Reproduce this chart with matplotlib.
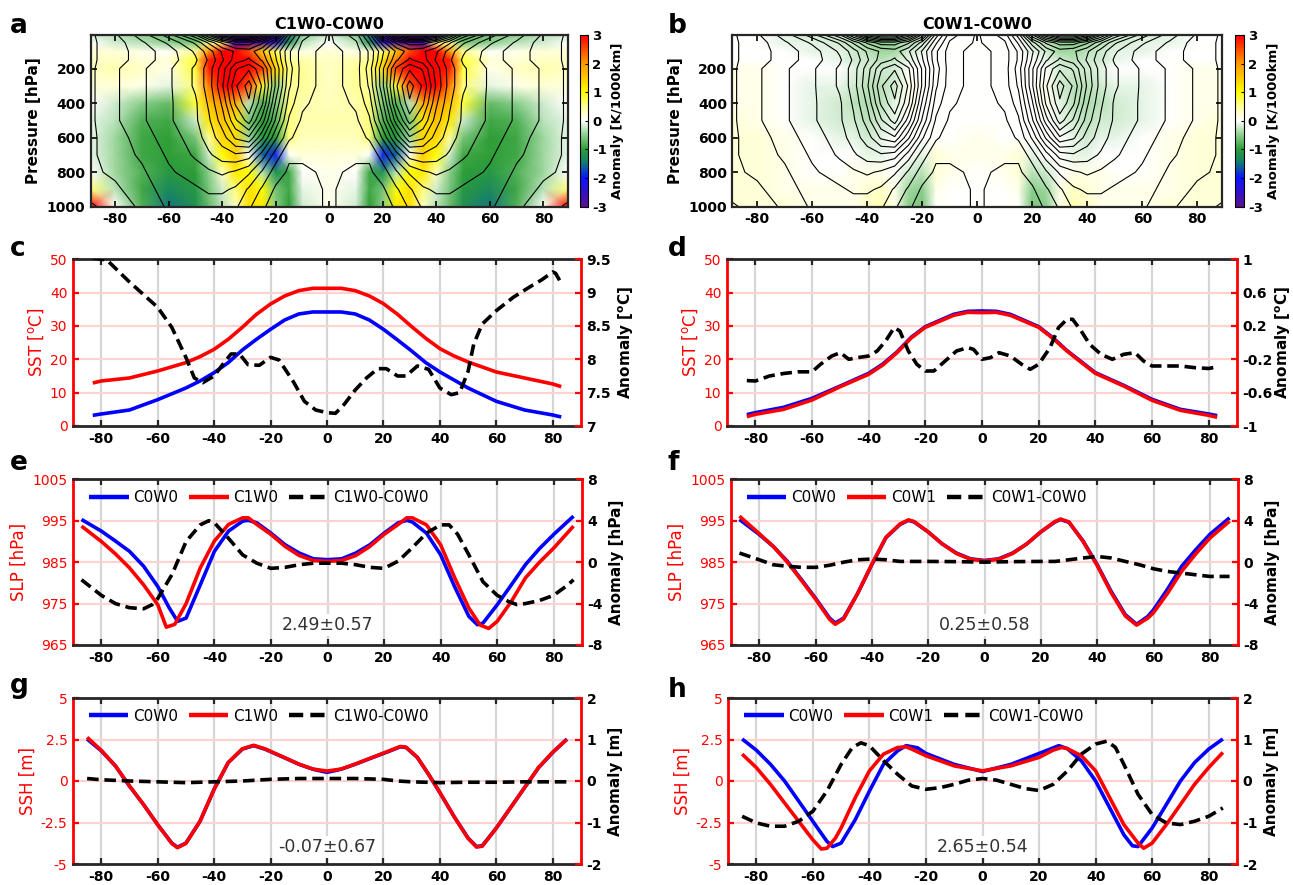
import numpy as np
import matplotlib
matplotlib.use("Agg")
import matplotlib.pyplot as plt
from matplotlib.colors import LinearSegmentedColormap

plt.rcParams['font.family'] = ['DejaVu Sans']
plt.rcParams['axes.unicode_minus'] = False
plt.rcParams['mathtext.default'] = 'regular'

# ---------------- data: maps (southern half read; the reference fields are mirror-symmetric) ----------------
LAT_S = [-89, -80, -70, -60, -50, -45, -40, -35, -30, -25, -20, -15, -10, 0]
LEV = [5, 50, 100, 150, 200, 300, 400, 500, 600, 700, 800, 900, 1000]

# background climatology drawn as black contours
U_BASE_S = [
    [0, 3, 8, 14, 24, 34, 44, 50, 50, 42, 30, 14, 5, 0],
    [0, 2, 6, 10, 16, 22, 28, 32, 32, 28, 20, 10, 3, 0],
    [0, 2, 5, 8, 13, 17, 22, 25, 26, 22, 15, 7, 2, -1],
    [0, 2, 5, 8, 12, 16, 21, 26, 28, 24, 16, 7, 2, -1],
    [0, 3, 6, 9, 13, 17, 23, 30, 33, 28, 18, 8, 2, -1],
    [0, 3, 6, 9, 13, 17, 24, 33, 38, 30, 18, 7, 2, -1],
    [0, 3, 6, 9, 12, 16, 22, 31, 36, 28, 15, 5, 1, -1],
    [0, 3, 6, 9, 12, 15, 20, 27, 32, 23, 12, 3, 0, -2],
    [0, 2, 5, 8, 11, 14, 17, 22, 24, 16, 7, 1, -1, -2],
    [0, 2, 4, 7, 10, 12, 14, 15, 14, 8, 2, -2, -2, -2],
    [0, 1, 3, 6, 8, 9, 10, 9, 7, 3, -1, -3, -3, -2],
    [-1, 0, 2, 5, 6, 7, 7, 6, 3, 0, -3, -4, -4, -2],
    [-3, -1, 1, 4, 5, 5, 5, 4, 1, -2, -4, -5, -4, -2],
]

# anomaly C1W0-C0W0 [K/1000km]
ANOM_A_S = [
    [-0.2, -0.3, -0.5, -0.6, -0.9, -1.2, -2.6, -3.0, -3.0, -3.0, -2.6, -1.5, -0.5, -0.2],
    [0.0, -0.2, -0.3, -0.5, -0.6, 0.5, 0.6, -2.5, -2.8, -2.8, -2.4, -1.2, -0.3, 0.0],
    [0.2, 0.2, 0.1, 0.0, 0.5, 2.0, 3.0, 3.0, 2.5, 1.5, 0.6, 0.2, 0.1, 0.2],
    [0.3, 0.3, 0.2, 0.2, 0.8, 2.8, 3.0, 3.0, 3.0, 2.2, 1.2, 0.5, 0.4, 0.3],
    [0.3, 0.4, 0.3, 0.1, 0.8, 2.8, 3.0, 3.0, 3.0, 2.6, 1.4, 0.6, 0.5, 0.3],
    [0.2, 0.2, 0.1, -0.1, 0.6, 2.2, 3.0, 3.0, 2.4, 0.8, -0.5, 0.5, 0.5, 0.3],
    [0.0, -0.2, -0.5, -0.7, 0.8, 1.6, 2.0, 1.8, -0.3, -0.8, -0.6, 0.6, 0.4, 0.35],
    [-0.1, -0.3, -0.8, -0.9, -0.2, 1.2, 1.6, 1.2, -0.6, -1.0, -0.8, 0.6, 0.4, 0.4],
    [-0.1, -0.4, -0.9, -1.0, -0.6, 0.5, 1.4, 1.4, -0.4, -1.1, -1.0, 0.6, 0.35, 0.35],
    [-0.1, -0.4, -0.9, -1.0, -0.9, -0.2, 1.0, 1.5, 0.0, -1.6, -1.9, 0.0, 0.2, 0.2],
    [0.0, -0.4, -0.8, -1.1, -1.0, -0.5, 0.3, 1.2, 1.0, -0.3, -1.2, -0.9, 0.0, 0.1],
    [0.6, -0.3, -0.9, -1.3, -1.1, -0.6, -0.2, 0.6, 1.3, 1.0, -0.6, -0.9, -0.1, 0.1],
    [3.0, 0.0, -0.8, -1.5, -1.2, -0.7, -0.3, 0.3, 1.3, 1.2, -0.5, -1.0, -0.2, 0.1],
]

# anomaly C0W1-C0W0 [K/1000km]
ANOM_B_S = [
    [0.0, 0.0, -0.1, -0.2, -0.2, -0.3, -0.4, -0.3, -0.2, -0.3, -0.2, 0.0, 0.0, 0.0],
    [0.0, 0.0, -0.1, -0.1, -0.2, -0.3, -0.4, -0.5, -0.4, -0.3, -0.2, 0.0, 0.0, 0.0],
    [0.0, 0.0, 0.0, -0.1, -0.1, -0.2, -0.3, -0.4, -0.4, -0.2, -0.1, 0.0, 0.0, 0.0],
    [0.0, 0.0, 0.0, 0.0, -0.1, -0.2, -0.2, -0.3, -0.2, -0.1, 0.0, 0.0, 0.0, 0.0],
    [0.1, 0.1, 0.0, 0.0, 0.0, -0.1, -0.2, -0.2, -0.2, 0.0, 0.0, 0.0, 0.0, 0.0],
    [0.1, 0.1, 0.0, -0.1, -0.1, -0.2, -0.3, -0.3, -0.2, 0.1, 0.0, 0.0, 0.0, 0.0],
    [0.1, 0.1, 0.0, -0.1, -0.2, -0.3, -0.35, -0.3, -0.1, 0.1, 0.0, 0.0, 0.0, 0.0],
    [0.2, 0.1, 0.0, -0.1, -0.2, -0.2, -0.3, -0.2, -0.1, 0.0, 0.0, 0.0, 0.0, 0.0],
    [0.2, 0.2, 0.1, 0.0, -0.1, -0.1, -0.2, -0.1, 0.0, 0.0, 0.0, 0.0, 0.0, 0.1],
    [0.2, 0.2, 0.1, 0.0, 0.0, 0.0, -0.1, -0.1, 0.0, 0.0, -0.1, 0.2, 0.1, 0.1],
    [0.2, 0.2, 0.1, 0.0, 0.0, 0.1, 0.1, 0.1, 0.0, -0.2, -0.3, 0.2, 0.1, 0.0],
    [0.2, 0.2, 0.1, 0.1, 0.1, 0.1, 0.2, 0.3, 0.1, -0.4, -0.5, 0.1, 0.0, 0.0],
    [0.2, 0.2, 0.2, 0.1, 0.1, 0.1, 0.3, 0.4, 0.1, -0.5, -0.6, 0.0, 0.0, 0.0],
]

MAP_TITLES = ['C1W0-C0W0', 'C0W1-C0W0']
CB_TICKS = [-3, -2, -1, 0, 1, 2, 3]
P_TICKS = [200, 400, 600, 800, 1000]
LAT_TICKS = [-80, -60, -40, -20, 0, 20, 40, 60, 80]

# ---------------- data: line panels ----------------
c_lat = [-83, -80, -70, -60, -50, -45, -40, -35, -30, -25, -20, -15, -10, -5, 0, 5, 10, 15, 20, 25, 30, 35, 40, 45, 50, 60, 70, 80, 83]
c_red = [12.9, 13.5, 14.4, 16.5, 19.0, 20.8, 23.0, 26.0, 29.6, 33.5, 36.6, 39.0, 40.6, 41.3, 41.3, 41.3, 40.6, 39.0, 36.7, 33.5, 29.8, 26.3, 23.2, 21.0, 19.2, 16.2, 14.4, 12.6, 11.8]
c_blue = [3.2, 3.6, 4.8, 7.9, 11.4, 13.5, 16.0, 19.0, 22.8, 26.0, 29.0, 31.8, 33.6, 34.2, 34.2, 34.2, 33.6, 31.8, 29.0, 25.8, 22.5, 19.0, 16.2, 13.8, 11.4, 7.4, 4.8, 3.3, 2.7]
c_anom_lat = [-83, -78, -70, -60, -55, -50, -47, -44, -40, -37, -34, -31, -28, -24, -20, -17, -12, -8, -4, 0, 3, 6, 10, 14, 18, 21, 25, 28, 32, 36, 40, 44, 47, 50, 52, 55, 60, 66, 72, 76, 80, 81, 83]
c_anom = [9.52, 9.49, 9.16, 8.78, 8.48, 8.03, 7.72, 7.65, 7.75, 7.92, 8.08, 8.08, 7.92, 7.91, 8.03, 7.99, 7.67, 7.37, 7.24, 7.2, 7.19, 7.32, 7.54, 7.72, 7.86, 7.86, 7.75, 7.75, 7.9, 7.85, 7.57, 7.47, 7.5, 7.82, 8.23, 8.53, 8.73, 8.93, 9.09, 9.19, 9.31, 9.29, 9.14]

d_lat = [-83, -80, -70, -60, -50, -40, -35, -30, -25, -20, -10, -5, 0, 5, 10, 20, 25, 30, 35, 40, 50, 60, 70, 80, 83]
d_blue = [3.4, 4.0, 5.6, 8.3, 12.0, 15.8, 18.6, 22.2, 26.6, 29.8, 33.5, 34.4, 34.5, 34.4, 33.5, 29.8, 26.5, 22.6, 19.3, 16.0, 12.2, 8.0, 5.0, 3.6, 3.1]
d_red = [2.8, 3.5, 5.0, 7.8, 11.8, 15.5, 18.3, 22.0, 26.4, 29.6, 33.2, 34.1, 34.0, 34.1, 33.2, 29.6, 26.3, 22.5, 19.1, 15.8, 12.0, 7.7, 4.7, 3.2, 2.6]
d_anom_lat = [-83, -80, -75, -70, -65, -60, -57, -53, -50, -47, -44, -40, -37, -34, -31, -29, -26, -23, -20, -17, -13, -9, -5, -3, 0, 3, 6, 10, 14, 17, 20, 24, 27, 30, 32, 35, 38, 42, 46, 50, 54, 57, 60, 65, 70, 75, 80, 83]
d_anom = [-0.455, -0.46, -0.40, -0.37, -0.35, -0.35, -0.26, -0.16, -0.12, -0.2, -0.18, -0.16, -0.10, 0.02, 0.18, 0.14, -0.1, -0.26, -0.34, -0.34, -0.22, -0.10, -0.06, -0.08, -0.2, -0.18, -0.12, -0.16, -0.26, -0.32, -0.26, -0.06, 0.18, 0.28, 0.28, 0.14, -0.02, -0.14, -0.2, -0.14, -0.12, -0.22, -0.28, -0.28, -0.28, -0.3, -0.31, -0.29]

e_blue_lat = [-87, -80, -75, -70, -65, -60, -56, -53, -50, -45, -40, -35, -30, -28, -25, -20, -15, -10, -5, 0, 5, 10, 15, 20, 25, 28, 30, 35, 40, 45, 50, 53, 55, 60, 65, 70, 75, 80, 87]
e_blue = [995.3, 992.5, 990.1, 987.6, 984.0, 979.1, 974.0, 970.7, 971.5, 979.5, 987.6, 992.5, 994.9, 995.1, 994.5, 992.0, 989.2, 987.2, 985.8, 985.6, 985.8, 987.2, 989.2, 992.0, 994.5, 995.1, 994.7, 992.0, 986.8, 979.0, 971.9, 969.9, 970.3, 974.7, 979.5, 984.4, 988.3, 991.7, 996.1]
e_red_lat = [-87, -80, -75, -70, -65, -60, -57, -54, -50, -45, -40, -35, -30, -28, -25, -20, -15, -10, -5, 0, 5, 10, 15, 20, 25, 28, 30, 35, 40, 45, 50, 54, 57, 60, 65, 70, 75, 80, 87]
e_red = [993.7, 990.0, 987.0, 983.6, 979.5, 974.7, 969.3, 970.0, 975.0, 983.6, 990.1, 994.1, 995.7, 995.7, 994.1, 991.7, 988.8, 986.6, 985.4, 985.2, 985.4, 986.6, 988.8, 991.7, 994.1, 995.7, 995.7, 994.0, 989.2, 981.2, 973.9, 969.8, 969.0, 970.7, 975.5, 981.2, 985.0, 988.4, 993.7]
e_anom_lat = [-87, -80, -75, -70, -65, -62, -60, -55, -50, -45, -42, -40, -35, -30, -25, -20, -15, -10, -5, 0, 5, 10, 15, 20, 25, 30, 35, 40, 43, 46, 50, 55, 60, 64, 67, 70, 75, 80, 85, 87]
e_anom = [-1.7, -3.2, -4.0, -4.4, -4.5, -4.1, -3.5, -1.2, 2.0, 3.6, 4.0, 3.8, 2.3, 0.7, -0.1, -0.6, -0.5, -0.25, -0.1, -0.1, -0.1, -0.25, -0.5, -0.6, 0.1, 1.4, 2.8, 3.6, 3.6, 2.7, 0.7, -1.9, -3.2, -3.8, -4.1, -4.0, -3.7, -3.2, -2.2, -1.7]

f_lat = [-87, -80, -75, -70, -65, -60, -55, -53, -50, -45, -40, -35, -30, -27, -25, -20, -15, -10, -5, 0, 5, 10, 15, 20, 25, 27, 30, 35, 40, 45, 50, 54, 58, 60, 65, 70, 75, 80, 87]
f_blue = [995.3, 991.7, 988.8, 985.2, 980.8, 976.3, 971.5, 970.3, 971.5, 977.5, 984.4, 990.9, 994.1, 995.1, 994.7, 992.3, 989.4, 987.2, 985.8, 985.4, 985.8, 987.2, 989.4, 992.3, 994.7, 995.3, 994.6, 990.1, 984.4, 977.9, 972.3, 970.0, 971.9, 973.5, 978.5, 984.0, 988.0, 991.7, 995.7]
f_red = [996.1, 991.9, 988.8, 985.0, 980.6, 976.1, 971.2, 970.0, 971.3, 977.5, 984.5, 991.0, 994.2, 995.2, 994.8, 992.3, 989.4, 987.1, 985.7, 985.3, 985.7, 987.1, 989.4, 992.3, 994.8, 995.4, 994.7, 990.0, 984.2, 977.6, 972.0, 969.8, 971.5, 972.8, 977.5, 982.8, 987.0, 990.8, 994.9]
f_anom_lat = [-87, -80, -75, -70, -65, -60, -55, -50, -45, -40, -35, -30, -20, -10, 0, 10, 20, 25, 30, 35, 40, 45, 50, 55, 60, 65, 70, 75, 80, 87]
f_anom = [0.88, 0.23, -0.25, -0.4, -0.5, -0.5, -0.3, 0.0, 0.23, 0.3, 0.23, 0.07, 0.07, 0.05, 0.0, 0.05, 0.07, 0.07, 0.23, 0.4, 0.55, 0.4, 0.07, -0.25, -0.64, -0.9, -1.06, -1.22, -1.38, -1.38]

g_lat = [-85, -80, -75, -70, -65, -60, -55, -53, -50, -45, -40, -35, -30, -26, -22, -18, -14, -10, -5, 0, 5, 10, 15, 20, 26, 28, 32, 36, 40, 45, 50, 53, 55, 60, 65, 70, 75, 80, 85]
g_blue = [2.53, 1.82, 0.91, -0.3, -1.42, -2.63, -3.74, -3.99, -3.74, -2.43, -0.5, 1.11, 1.92, 2.13, 1.92, 1.62, 1.32, 1.01, 0.71, 0.52, 0.71, 1.01, 1.34, 1.66, 2.06, 2.02, 1.42, 0.4, -0.7, -2.13, -3.44, -3.95, -3.9, -2.83, -1.62, -0.4, 0.81, 1.72, 2.53]
g_red = [2.63, 1.85, 0.92, -0.3, -1.42, -2.63, -3.76, -4.02, -3.76, -2.43, -0.5, 1.11, 1.94, 2.15, 1.94, 1.63, 1.33, 1.02, 0.72, 0.6, 0.72, 1.02, 1.35, 1.68, 2.08, 2.04, 1.43, 0.4, -0.7, -2.14, -3.46, -3.98, -3.93, -2.84, -1.62, -0.4, 0.82, 1.74, 2.5]
g_anom_lat = [-85, -80, -70, -60, -50, -40, -30, -20, -10, 0, 10, 20, 25, 30, 40, 50, 60, 70, 80, 85]
g_anom = [0.06, 0.03, 0.0, -0.02, -0.04, -0.02, 0.0, 0.04, 0.06, 0.06, 0.06, 0.04, 0.0, -0.02, -0.04, -0.03, -0.03, -0.02, -0.02, -0.02]

h_blue_lat = [-85, -80, -75, -70, -65, -60, -55, -53, -50, -45, -40, -35, -30, -27, -23, -20, -10, 0, 10, 20, 27, 30, 35, 40, 45, 50, 53, 55, 60, 65, 70, 75, 80, 85]
h_blue = [2.53, 1.86, 1.01, 0.0, -1.21, -2.43, -3.64, -3.95, -3.74, -2.33, -0.61, 1.01, 1.82, 2.13, 2.0, 1.66, 1.0, 0.57, 1.0, 1.66, 2.13, 1.95, 1.21, 0.0, -1.62, -3.24, -3.9, -3.95, -2.83, -1.42, 0.0, 1.11, 1.92, 2.53]
h_red_lat = [-85, -80, -75, -70, -65, -60, -57, -55, -52, -50, -45, -40, -35, -30, -27, -25, -20, -10, 0, 10, 20, 25, 28, 30, 35, 40, 45, 50, 55, 57, 60, 65, 70, 75, 80, 85]
h_red = [1.62, 0.81, -0.2, -1.32, -2.43, -3.54, -4.1, -4.05, -3.44, -2.83, -1.01, 0.61, 1.62, 2.02, 2.06, 1.92, 1.52, 0.91, 0.61, 0.91, 1.42, 1.86, 2.02, 1.95, 1.52, 0.61, -1.01, -2.63, -3.74, -4.05, -3.74, -2.63, -1.42, -0.2, 0.81, 1.72]
h_anom_lat = [-85, -80, -75, -70, -65, -60, -55, -50, -46, -43, -40, -35, -30, -25, -20, -15, -10, -5, 0, 5, 10, 15, 20, 25, 30, 35, 40, 44, 47, 50, 55, 60, 65, 70, 75, 80, 85]
h_anom = [-0.85, -1.01, -1.09, -1.09, -0.97, -0.73, -0.24, 0.40, 0.81, 0.92, 0.85, 0.49, 0.16, -0.12, -0.2, -0.16, -0.08, 0.02, 0.06, 0.02, -0.08, -0.18, -0.23, -0.08, 0.24, 0.65, 0.89, 0.96, 0.81, 0.40, -0.32, -0.81, -1.01, -1.05, -0.97, -0.85, -0.65]

STATS = {'e': '2.49\u00b10.57', 'f': '0.25\u00b10.58', 'g': '-0.07\u00b10.67', 'h': '2.65\u00b10.54'}

# ---------------- layout ----------------
W, H = 1293, 885
fig = plt.figure(figsize=(W / 100, H / 100), dpi=100)


def rect(l, r, t, b):
    return [l / W, 1 - b / H, (r - l) / W, (b - t) / H]


RED = '#ff0000'
BLUE = '#0000ff'
SPINE_K = '#262626'
TICK_FS = 10

cmap = LinearSegmentedColormap.from_list('anom', [
    (0.0, '#5a0f8c'), (1 / 6, '#0a14ff'), (0.26, '#14806e'), (2 / 6, '#2e9e36'),
    (0.42, '#8fd08f'), (0.5, '#ffffff'), (0.58, '#ffffa0'), (4 / 6, '#ffff00'),
    (5 / 6, '#ff9a00'), (1.0, '#ff0000')])


def mirror_lat(lat_s):
    a = np.asarray(lat_s, float)
    return np.concatenate([a, -a[-2::-1]])


def mirror_field(f_s):
    a = np.asarray(f_s, float)
    return np.concatenate([a, a[:, -2::-1]], axis=1)


def draw_map(ax_r, cb_r, field_s, title, letter, lpos):
    ax = fig.add_axes(rect(*ax_r))
    lat = mirror_lat(LAT_S)
    X, Y = np.meshgrid(lat, np.asarray(LEV, float))
    Z = mirror_field(field_s)
    U = mirror_field(U_BASE_S)
    pm = ax.pcolormesh(X, Y, Z, cmap=cmap, vmin=-3, vmax=3, shading='gouraud', rasterized=True)
    ax.contour(X, Y, U, levels=np.arange(-2.5, 55, 3), colors='k', linewidths=0.8,
               linestyles='solid')
    ax.set_xlim(-89, 89)
    ax.set_ylim(1000, 5)
    ax.set_xticks(LAT_TICKS)
    ax.set_xticklabels([str(v) for v in LAT_TICKS], fontweight='bold', fontsize=TICK_FS)
    ax.set_yticks(P_TICKS)
    ax.set_yticklabels([str(v) for v in P_TICKS], fontweight='bold', fontsize=TICK_FS)
    ax.tick_params(direction='in', length=4, width=1.2, top=True, right=True, pad=4)
    for s in ax.spines.values():
        s.set_linewidth(1.6)
        s.set_color(SPINE_K)
    ax.set_ylabel('Pressure [hPa]', fontweight='bold', fontsize=11, labelpad=4)
    ax.set_title(title, fontweight='bold', fontsize=11.5, pad=4)
    cax = fig.add_axes(rect(*cb_r))
    cb = fig.colorbar(pm, cax=cax, ticks=CB_TICKS)
    cb.ax.set_yticklabels([str(v) for v in CB_TICKS], fontweight='bold', fontsize=9.5)
    cb.ax.tick_params(direction='in', length=2, width=0.8, pad=3)
    cb.outline.set_linewidth(0.8)
    cb.set_label('Anomaly [K/1000km]', fontweight='bold', fontsize=9.5, labelpad=3)
    fig.text(lpos[0] / W, 1 - lpos[1] / H, letter, fontsize=19, fontweight='bold',
             ha='left', va='baseline')


draw_map((91, 567.5, 35, 206.7), (580, 588, 35, 206.7), ANOM_A_S, MAP_TITLES[0], 'a', (10, 33))
draw_map((732.5, 1222, 35, 206.7), (1234.6, 1243.7, 35, 206.7), ANOM_B_S, MAP_TITLES[1], 'b', (668, 33))


def line_panel(ax_r, letter, lpos, xb, yb, xr, yr, xa, ya, lylim, lyticks, lylabels, lylabel,
               rylim, ryticks, rylabels, rylabel, legend=None, stat=None, stat_y=None,
               rlabelpad=4):
    ax = fig.add_axes(rect(*ax_r))
    ax.set_xlim(-90, 90)
    ax.set_ylim(*lylim)
    for xv in LAT_TICKS:
        ax.axvline(xv, color='#d6d6d6', lw=1.6, zorder=0.5)
    for yv in lyticks[1:-1]:
        ax.axhline(yv, color='#ffd2d2', lw=1.6, zorder=0.5)
    hb, = ax.plot(xb, yb, color=BLUE, lw=2.6, zorder=2, solid_capstyle='butt')
    hr, = ax.plot(xr, yr, color=RED, lw=2.6, zorder=3, solid_capstyle='butt')
    ax.set_xticks(LAT_TICKS)
    ax.set_xticklabels([str(v) for v in LAT_TICKS], fontweight='bold', fontsize=TICK_FS)
    ax.set_yticks(lyticks)
    ax.set_yticklabels(lylabels, fontsize=TICK_FS, color=RED)
    ax.tick_params(axis='x', direction='in', length=4, width=1.6, top=True, bottom=True,
                   color=SPINE_K, pad=4)
    ax.tick_params(axis='y', direction='in', length=4, width=1.6, colors=RED, pad=4)
    ax.spines['top'].set_color(SPINE_K)
    ax.spines['bottom'].set_color(SPINE_K)
    ax.spines['top'].set_linewidth(2.0)
    ax.spines['bottom'].set_linewidth(2.0)
    ax.spines['left'].set_color(RED)
    ax.spines['left'].set_linewidth(2.0)
    ax.spines['right'].set_visible(False)
    ax.set_ylabel(lylabel, color=RED, fontsize=12, labelpad=3)

    ax2 = ax.twinx()
    ha, = ax2.plot(xa, ya, color='k', lw=2.6, linestyle=(0, (3.2, 1.6)), zorder=4)
    ax2.set_ylim(*rylim)
    ax2.set_yticks(ryticks)
    ax2.set_yticklabels(rylabels, fontweight='bold', fontsize=TICK_FS)
    ax2.tick_params(axis='y', direction='in', length=4, width=1.6, color=RED, pad=4)
    for k in ('top', 'bottom', 'left'):
        ax2.spines[k].set_visible(False)
    ax2.spines['right'].set_color(RED)
    ax2.spines['right'].set_linewidth(2.0)
    ax2.set_ylabel(rylabel, fontweight='bold', fontsize=11, labelpad=rlabelpad)

    if legend is not None:
        leg = ax2.legend([hb, hr, ha], legend, loc='upper left', ncol=3, frameon=False,
                         fontsize=11, handlelength=2.6, handletextpad=0.3,
                         columnspacing=0.7, borderaxespad=0.3, bbox_to_anchor=(0.01, 1.0))
        for ln in leg.get_lines():
            ln.set_linewidth(3.2)
    if stat is not None:
        ax.text(0, stat_y, stat, ha='center', va='center', fontsize=12.5, color='#333333',
                zorder=6, bbox=dict(facecolor='white', edgecolor='none', pad=1.5))
    fig.text(lpos[0] / W, 1 - lpos[1] / H, letter, fontsize=19, fontweight='bold',
             ha='left', va='baseline')
    return ax, ax2


SST_T = [0, 10, 20, 30, 40, 50]
SLP_T = [965, 975, 985, 995, 1005]
SSH_T = [-5, -2.5, 0, 2.5, 5]
SSH_L = ['-5', '-2.5', '0', '2.5', '5']

line_panel((73, 581, 259.3, 426), 'c', (10, 256), c_lat, c_blue, c_lat, c_red, c_anom_lat, c_anom,
           (0, 50), SST_T, [str(v) for v in SST_T], r'SST [$^{\rm o}$C]',
           (7, 9.5), [7, 7.5, 8, 8.5, 9, 9.5], ['7', '7.5', '8', '8.5', '9', '9.5'],
           r'Anomaly [$^{\bf o}$C]')
line_panel((727, 1237, 259.3, 426), 'd', (668, 256), d_lat, d_blue, d_lat, d_red, d_anom_lat, d_anom,
           (0, 50), SST_T, [str(v) for v in SST_T], r'SST [$^{\rm o}$C]',
           (-1, 1), [-1, -0.6, -0.2, 0.2, 0.6, 1], ['-1', '-0.6', '-0.2', '0.2', '0.6', '1'],
           r'Anomaly [$^{\bf o}$C]', rlabelpad=0)
line_panel((73, 582, 479.3, 645), 'e', (10, 470), e_blue_lat, e_blue, e_red_lat, e_red, e_anom_lat, e_anom,
           (965, 1005), SLP_T, [str(v) for v in SLP_T], 'SLP [hPa]',
           (-8, 8), [-8, -4, 0, 4, 8], ['-8', '-4', '0', '4', '8'], 'Anomaly [hPa]',
           legend=['C0W0', 'C1W0', 'C1W0-C0W0'], stat=STATS['e'], stat_y=969.8)
line_panel((731, 1238, 479.3, 645), 'f', (668, 470), f_lat, f_blue, f_lat, f_red, f_anom_lat, f_anom,
           (965, 1005), SLP_T, [str(v) for v in SLP_T], 'SLP [hPa]',
           (-8, 8), [-8, -4, 0, 4, 8], ['-8', '-4', '0', '4', '8'], 'Anomaly [hPa]',
           legend=['C0W0', 'C0W1', 'C0W1-C0W0'], stat=STATS['f'], stat_y=969.8)
line_panel((73, 581, 698, 864), 'g', (10, 693), g_lat, g_blue, g_lat, g_red, g_anom_lat, g_anom,
           (-5, 5), SSH_T, SSH_L, 'SSH [m]',
           (-2, 2), [-2, -1, 0, 1, 2], ['-2', '-1', '0', '1', '2'], 'Anomaly [m]',
           legend=['C0W0', 'C1W0', 'C1W0-C0W0'], stat=STATS['g'], stat_y=-4.0)
line_panel((728, 1237, 698, 864), 'h', (668, 697), h_blue_lat, h_blue, h_red_lat, h_red, h_anom_lat, h_anom,
           (-5, 5), SSH_T, SSH_L, 'SSH [m]',
           (-2, 2), [-2, -1, 0, 1, 2], ['-2', '-1', '0', '1', '2'], 'Anomaly [m]',
           legend=['C0W0', 'C0W1', 'C0W1-C0W0'], stat=STATS['h'], stat_y=-4.0)

fig.savefig('out.png', dpi=100)
